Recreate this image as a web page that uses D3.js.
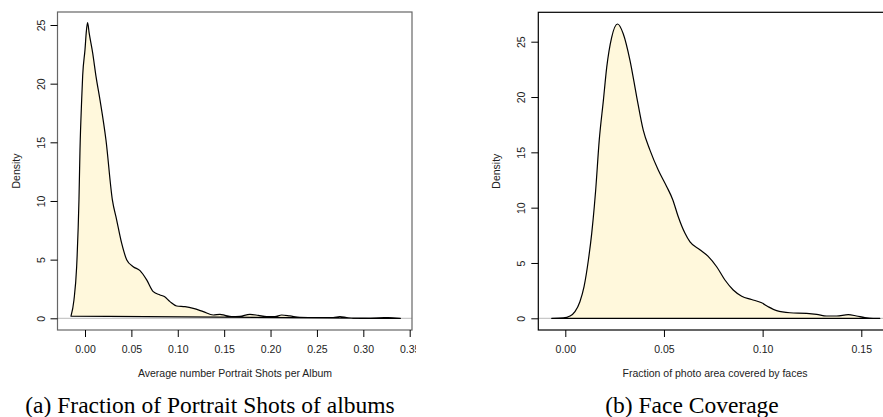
<!DOCTYPE html>
<html>
<head>
<meta charset="utf-8">
<script src="https://cdn.jsdelivr.net/npm/d3@7"></script>
<style>
  body { margin: 0; background: #fff; }
  svg text { font-family: "Liberation Sans", Arial, sans-serif; }
  .caption { font-family: "Liberation Serif", "Times New Roman", serif; }
</style>
</head>
<body>
<svg id="chart" width="883" height="417"></svg>
<script>
// panel (a): density of average number of portrait shots per album
const portraitX = [-0.0151, -0.0119, -0.0090, -0.0065, -0.0054, -0.0036, -0.0025, 0.0000, 0.0015, 0.0028,
    0.0045, 0.0083, 0.0119, 0.0162, 0.0226, 0.0295, 0.0341, 0.0395, 0.0449, 0.0520, 0.0593, 0.0665,
    0.0736, 0.0808, 0.0855, 0.0916, 0.0988, 0.1078, 0.1167, 0.1275, 0.1383, 0.1455, 0.1509, 0.1580,
    0.1670, 0.1778, 0.1868, 0.1958, 0.2047, 0.2120, 0.2209, 0.2317, 0.2497, 0.2676, 0.2748, 0.2820,
    0.2890, 0.3030, 0.3250, 0.3400];
const portraitY = [0.18, 1.56, 4.4, 10.1, 14.35, 18.6, 20.7, 22.9, 24.5, 25.2,
    24.3, 22.6, 20.6, 18.6, 15.2, 10.1, 8.4, 6.4, 5.0, 4.4, 4.06, 3.27,
    2.27, 1.99, 1.85, 1.42, 1.05, 0.99, 0.85, 0.57, 0.28, 0.34, 0.25, 0.14,
    0.17, 0.34, 0.25, 0.14, 0.14, 0.28, 0.2, 0.08, 0.06, 0.06, 0.14, 0.06,
    0.0, 0.0, 0.05, 0.0];
const portraitXTicks = [0, 0.05, 0.10, 0.15, 0.20, 0.25, 0.30, 0.35];
const portraitYTicks = [0, 5, 10, 15, 20, 25];

// panel (b): density of face coverage
const faceX = [-0.0069, -0.0010, 0.0024, 0.0049, 0.0074, 0.0095, 0.0117, 0.0134, 0.0147, 0.0154,
    0.0172, 0.0193, 0.0210, 0.0235, 0.0265, 0.0294, 0.0328, 0.0362, 0.0395, 0.0429, 0.0471,
    0.0514, 0.0545, 0.0572, 0.0606, 0.0632, 0.0682, 0.0724, 0.0767, 0.0809, 0.0851, 0.0894,
    0.0944, 0.0995, 0.1028, 0.1071, 0.1138, 0.1223, 0.1274, 0.1324, 0.1375, 0.1434, 0.1476,
    0.1518, 0.1560, 0.1594];
const faceY = [0.0, 0.03, 0.2, 0.6, 1.5, 2.86, 5.27, 7.7, 10.1, 11.6,
    16.1, 19.7, 22.7, 25.4, 26.6, 25.7, 23.3, 20.0, 17.0, 15.2, 13.4,
    11.9, 10.7, 9.2, 7.7, 6.9, 6.2, 5.6, 4.66, 3.46, 2.56, 2.0,
    1.7, 1.4, 1.05, 0.69, 0.5, 0.45, 0.36, 0.21, 0.21, 0.33, 0.21,
    0.06, 0.0, 0.0];
const faceXTicks = [0, 0.05, 0.10, 0.15];
const faceYTicks = [0, 5, 10, 15, 20, 25];

const panels = [
    {
        xs: portraitX, ys: portraitY, xTicks: portraitXTicks, yTicks: portraitYTicks,
        xDomain: [0, 0.35], xRange: [85, 409.7], yDomain: [0, 25], yRange: [318.3, 25],
        box: [57.5, 12, 412, 330], boxColor: "#666", clipW: [0, 416],
        yLabX: 45, yTitleX: 20,
        xTitle: "Average number Portrait Shots per Album", xTitleX: 235,
        caption: "(a) Fraction of Portrait Shots of albums", captionX: 210
    },
    {
        xs: faceX, ys: faceY, xTicks: faceXTicks, yTicks: faceYTicks,
        xDomain: [0, 0.15], xRange: [565.3, 861.3], yDomain: [0, 25], yRange: [318.3, 41.7],
        box: [538.3, 12.3, 900, 330], boxColor: "#000", clipW: [440, 883],
        yLabX: 525, yTitleX: 500,
        xTitle: "Fraction of photo area covered by faces", xTitleX: 715,
        caption: "(b) Face Coverage", captionX: 692
    }
];

const svg = d3.select("#chart");

panels.forEach((p, i) => {
    let x = d3.scaleLinear().domain(p.xDomain).range(p.xRange);
    let y = d3.scaleLinear().domain(p.yDomain).range(p.yRange);

    svg.append("clipPath").attr("id", "clip" + i)
        .append("rect")
        .attr("x", p.clipW[0]).attr("y", 0)
        .attr("width", p.clipW[1] - p.clipW[0]).attr("height", 417);

    let g = svg.append("g").attr("clip-path", "url(#clip" + i + ")");

    let [bx0, by0, bx1, by1] = p.box;

    // zero line
    g.append("line")
        .attr("x1", bx0).attr("x2", bx1)
        .attr("y1", y(0)).attr("y2", y(0))
        .attr("stroke", "#bbb").attr("stroke-width", 1);

    // density polygon
    let pts = p.xs.map((v, k) => [v, p.ys[k]]);
    let line = d3.line()
        .x(d => x(d[0]))
        .y(d => y(d[1]))
        .curve(d3.curveMonotoneX);
    g.append("path")
        .attr("d", line(pts) + "Z")
        .attr("fill", "#fff8dc")
        .attr("stroke", "#000")
        .attr("stroke-width", 1.2)
        .attr("stroke-linejoin", "round");

    // box
    g.append("rect")
        .attr("x", bx0).attr("y", by0)
        .attr("width", bx1 - bx0).attr("height", by1 - by0)
        .attr("fill", "none")
        .attr("stroke", p.boxColor).attr("stroke-width", 1.2);

    // x axis
    let xAxis = d3.axisBottom(x)
        .tickValues(p.xTicks)
        .tickSize(7)
        .tickPadding(9)
        .tickFormat(d3.format(".2f"));
    let gx = g.append("g")
        .attr("transform", "translate(0," + by1 + ")")
        .call(xAxis);
    gx.select(".domain").remove();
    gx.selectAll("line").attr("stroke", "#000").attr("stroke-width", 1);
    gx.selectAll("text").attr("font-size", 10.5).attr("fill", "#222")
        .attr("font-family", "Liberation Sans, Arial, sans-serif");

    // y axis
    let yAxis = d3.axisLeft(y)
        .tickValues(p.yTicks)
        .tickSize(7)
        .tickFormat(d3.format("d"));
    let gy = g.append("g")
        .attr("transform", "translate(" + bx0 + ",0)")
        .call(yAxis);
    gy.select(".domain").remove();
    gy.selectAll("line").attr("stroke", "#000").attr("stroke-width", 1);
    gy.selectAll("text")
        .attr("font-size", 10.5).attr("fill", "#222")
        .attr("font-family", "Liberation Sans, Arial, sans-serif")
        .attr("x", null).attr("dy", null)
        .attr("text-anchor", "middle")
        .attr("transform", "translate(" + (p.yLabX - bx0) + ",0) rotate(-90)");

    // axis titles
    g.append("text")
        .attr("transform", "translate(" + p.yTitleX + "," + ((by0 + by1) / 2) + ") rotate(-90)")
        .attr("text-anchor", "middle")
        .attr("font-size", 10.5).attr("fill", "#222")
        .text("Density");

    g.append("text")
        .attr("x", p.xTitleX).attr("y", 377)
        .attr("text-anchor", "middle")
        .attr("font-size", 10.5).attr("fill", "#222")
        .text(p.xTitle);

    g.append("text")
        .attr("class", "caption")
        .attr("x", p.captionX).attr("y", 413)
        .attr("text-anchor", "middle")
        .attr("font-size", 23.5).attr("fill", "#000")
        .text(p.caption);
});
</script>
</body>
</html>
